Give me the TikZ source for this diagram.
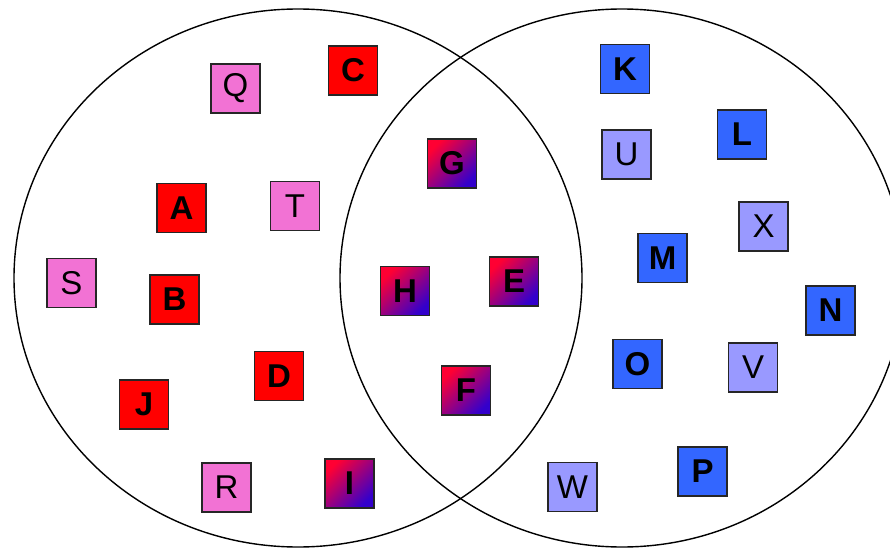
\documentclass[tikz,border=0pt]{standalone}
\usepackage{fontspec}
\setmainfont{Liberation Sans}
\usetikzlibrary{shapes.geometric}

\definecolor{setred}{HTML}{FF0000}
\definecolor{setpink}{HTML}{F272D4}
\definecolor{setblue}{HTML}{3366FF}
\definecolor{setlight}{HTML}{9999FF}
\definecolor{mixred}{HTML}{FF0033}
\definecolor{mixblue}{HTML}{3300CC}

\tikzset{
    letterbox/.style={rectangle, draw=black!85, line width=1.1pt, minimum size=49pt, inner sep=0pt, font=\fontsize{33}{36}\selectfont},
    redbox/.style={letterbox, fill=setred, font=\fontsize{33}{36}\selectfont\bfseries},
    pinkbox/.style={letterbox, fill=setpink},
    mixbox/.style={letterbox, top color=mixred, bottom color=mixblue, shading angle=45, font=\fontsize{33}{36}\selectfont\bfseries},
    bluebox/.style={letterbox, fill=setblue, font=\fontsize{33}{36}\selectfont\bfseries},
    lightbox/.style={letterbox, fill=setlight},
}

\begin{document}
\begin{tikzpicture}[x=1pt, y=-1pt]
    \useasboundingbox (0,0) rectangle (890,548);

    % Draw sets
    \draw[line width=1.4pt] (298,278) ellipse [x radius=284, y radius=269];
    \draw[line width=1.4pt] (622,278) ellipse [x radius=282, y radius=269];

    % Left set only
    \node[pinkbox] (Q) at (235.5,88.5) {Q};
    \node[redbox] (C) at (353,70.5) {C};
    \node[redbox] (A) at (181.5,208) {A};
    \node[pinkbox] (T) at (295,206) {T};
    \node[pinkbox] (S) at (71.5,283) {S};
    \node[redbox] (B) at (174.5,299.5) {B};
    \node[redbox] (D) at (279,376) {D};
    \node[redbox] (J) at (144,404.5) {J};
    \node[pinkbox] (R) at (226.5,487.5) {R};

    % Both sets
    \node[mixbox] (I) at (349.5,483.5) {I};
    \node[mixbox] (G) at (452,163.5) {G};
    \node[mixbox] (H) at (405,291) {H};
    \node[mixbox] (E) at (514,281.5) {E};
    \node[mixbox] (F) at (466,390.5) {F};

    % Right set only
    \node[bluebox] (K) at (625,69) {K};
    \node[lightbox] (U) at (626.5,154.5) {U};
    \node[bluebox] (L) at (742,134.5) {L};
    \node[lightbox] (X) at (763.5,226.5) {X};
    \node[bluebox] (M) at (662.5,258) {M};
    \node[bluebox] (N) at (830.5,310.5) {N};
    \node[bluebox] (O) at (637.5,364) {O};
    \node[lightbox] (V) at (753,367.5) {V};
    \node[bluebox] (P) at (702.5,471.5) {P};
    \node[lightbox] (W) at (572.5,487) {W};
\end{tikzpicture}
\end{document}
